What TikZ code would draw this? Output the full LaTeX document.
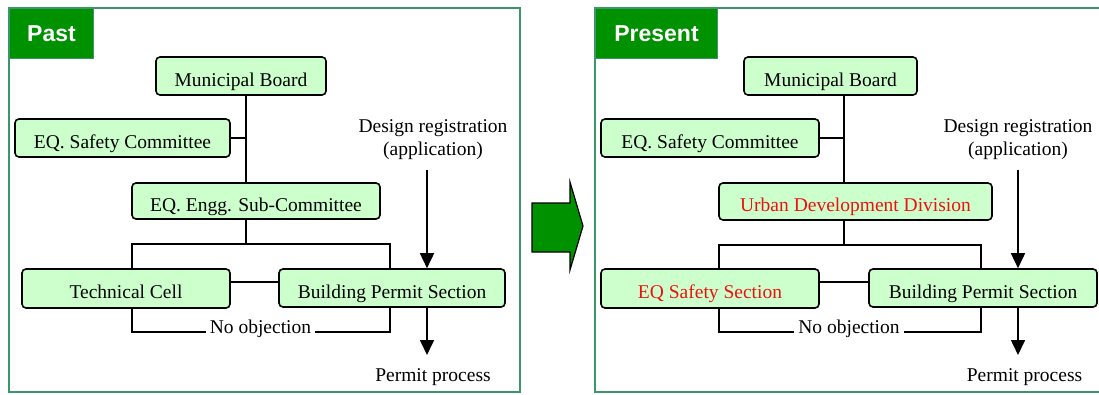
\documentclass[tikz,border=0pt]{standalone}
\usepackage{fontspec}
\setmainfont{Liberation Serif}
\newfontfamily\tagfont{Liberation Sans}
\usetikzlibrary{arrows.meta}

\definecolor{boxgreen}{HTML}{CCFFCC}
\definecolor{taggreen}{HTML}{009100}
\definecolor{framegreen}{RGB}{60,150,105}
\definecolor{newred}{HTML}{EE1111}

\tikzset{
  orgbox/.style={draw=black, line width=1.6pt, rounded corners=4pt, fill=boxgreen,
    inner sep=0pt, text height=20pt, text depth=0pt,
    font=\fontsize{19.5}{23}\selectfont},
  plain/.style={inner sep=0pt, align=center, font=\fontsize{19.5}{23}\selectfont},
  gaplabel/.style={plain, fill=white, inner xsep=4pt, inner ysep=2pt},
  wire/.style={line width=1.6pt},
  flow/.style={wire, -{Triangle[length=15pt,width=14pt]}},
  panel/.style={draw=framegreen, line width=1.6pt},
  tagbox/.style={fill=taggreen, draw=framegreen, line width=1pt, inner sep=0pt,
    text=white, font=\tagfont\bfseries\fontsize{23}{26}\selectfont},
  bigarrow/.style={fill=taggreen, draw=black, line width=1.2pt, line join=miter}
}

\begin{document}
\begin{tikzpicture}[x=1pt, y=-1pt]
\useasboundingbox (0,0) rectangle (1099,394);

% ---------------- left panel: past organisation ----------------
\draw[panel] (9,8) rectangle (520,392);
\node[tagbox, minimum width=84pt, minimum height=50pt, anchor=north west] (tagA) at (9,8) {Past};

\node[orgbox, minimum width=170pt, minimum height=38pt] (mbA) at (241,76) {Municipal Board};
\node[orgbox, minimum width=215pt, minimum height=38pt] (scA) at (122.5,138) {EQ. Safety Committee};
\node[orgbox, minimum width=248pt, minimum height=36pt] (ecA) at (256,201) {EQ. Engg. Sub-Committee};
\node[orgbox, minimum width=208pt, minimum height=39pt] (tcA) at (126,288.5) {Technical Cell};
\node[orgbox, minimum width=226pt, minimum height=38pt] (bpA) at (392,288) {Building Permit Section};

\node[plain] (drA) at (433,140) {Design registration\\(application)};
\node[plain] (ppA) at (433,377) {Permit process};

\coordinate (spineA) at (246,0);
\coordinate (lA) at (132,0);
\coordinate (rA) at (390,0);
\coordinate (busA) at (0,244);
\coordinate (linkA) at (0,282);
\coordinate (objA) at (0,332);
\coordinate (inA) at (427,170);
\coordinate (outA) at (427,355);

\draw[wire] (mbA.south -| spineA) -- (ecA.north -| spineA);
\draw[wire] (scA.east) -- (scA.east -| spineA);
\draw[wire] (ecA.south -| spineA) -- (spineA |- busA);
\draw[wire] (tcA.north -| lA) -- (lA |- busA) -- (rA |- busA) -- (bpA.north -| rA);
\draw[wire] (tcA.east |- linkA) -- (bpA.west |- linkA);
\draw[wire] (tcA.south -| lA) -- (lA |- objA) -- (rA |- objA) -- (bpA.south -| rA);
\node[gaplabel, anchor=base] (noA) at (260.5,333) {No objection};
\draw[flow] (inA) -- (bpA.north -| inA);
\draw[flow] (bpA.south -| outA) -- (outA);

% ---------------- transition arrow ----------------
\draw[bigarrow] (532,203) -- (570,203) -- (570,182) -- (583,226) -- (570,270) -- (570,252) -- (532,252) -- cycle;

% ---------------- right panel: present organisation ----------------
\draw[panel] (1102,8) -- (595,8) -- (595,392) -- (1102,392);
\node[tagbox, minimum width=122pt, minimum height=50pt, anchor=north west] (tagB) at (595,8) {Present};

\node[orgbox, minimum width=173pt, minimum height=38pt] (mbB) at (830.5,76) {Municipal Board};
\node[orgbox, minimum width=218pt, minimum height=38pt] (scB) at (710,138) {EQ. Safety Committee};
\node[orgbox, minimum width=273pt, minimum height=37pt, text=newred] (udB) at (855.5,201.5) {Urban Development Division};
\node[orgbox, minimum width=218pt, minimum height=39pt, text=newred] (esB) at (710,288.5) {EQ Safety Section};
\node[orgbox, minimum width=228pt, minimum height=38pt] (bpB) at (983,288) {Building Permit Section};

\node[plain] (drB) at (1018,140) {Design registration\\(application)};
\node[plain] (ppB) at (1024.5,377) {Permit process};

\coordinate (spineB) at (844,0);
\coordinate (lB) at (719,0);
\coordinate (rB) at (981,0);
\coordinate (busB) at (0,245);
\coordinate (linkB) at (0,282);
\coordinate (objB) at (0,332);
\coordinate (inB) at (1018,170);
\coordinate (outB) at (1018,355);

\draw[wire] (mbB.south -| spineB) -- (udB.north -| spineB);
\draw[wire] (scB.east) -- (scB.east -| spineB);
\draw[wire] (udB.south -| spineB) -- (spineB |- busB);
\draw[wire] (esB.north -| lB) -- (lB |- busB) -- (rB |- busB) -- (bpB.north -| rB);
\draw[wire] (esB.east |- linkB) -- (bpB.west |- linkB);
\draw[wire] (esB.south -| lB) -- (lB |- objB) -- (rB |- objB) -- (bpB.south -| rB);
\node[gaplabel, anchor=base] (noB) at (849,333) {No objection};
\draw[flow] (inB) -- (bpB.north -| inB);
\draw[flow] (bpB.south -| outB) -- (outB);
\end{tikzpicture}
\end{document}
